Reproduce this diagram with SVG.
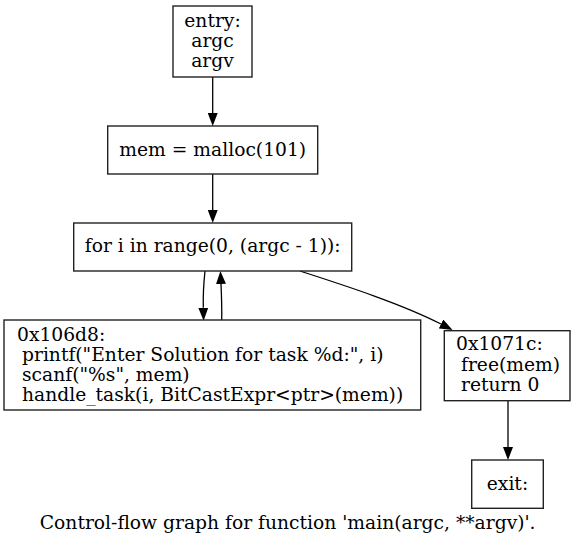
<svg xmlns="http://www.w3.org/2000/svg" width="576" height="545" viewBox="0 0 576 545">
<style>
.n rect{fill:#fff;stroke:#222;stroke-width:1.4}
text{font-family:"DejaVu Serif","Liberation Serif",serif;font-size:18.7px;fill:#000}
.e path{fill:none;stroke:#000;stroke-width:1.3}
</style>
<defs>
<marker id="a" viewBox="0 0 13 10" refX="0" refY="5" markerWidth="13" markerHeight="10" markerUnits="userSpaceOnUse" orient="auto">
<path d="M0,0 L13,5 L0,10 z" fill="#000"/>
</marker>
</defs>
<rect width="576" height="545" fill="#fff"/>
<g class="e" id="edges">
<path d="M212.7,77 L212.7,113" marker-end="url(#a)"/>
<path d="M212.7,174 L212.7,210" marker-end="url(#a)"/>
<path d="M205,271 C203.5,285 203,296 203.3,307.7" marker-end="url(#a)"/>
<path d="M221.7,320 C222,306 221.5,295 221,284" marker-end="url(#a)"/>
<path d="M300,271 C340,284 400,303 441,324" marker-end="url(#a)"/>
<path d="M508,401 L508,447" marker-end="url(#a)"/>
</g>
<g class="n" id="entry">
<rect x="173" y="6" width="79" height="71"/>
<text x="212.5" y="27" text-anchor="middle">entry:</text>
<text x="212.5" y="47" text-anchor="middle">argc</text>
<text x="212.5" y="67" text-anchor="middle">argv</text>
</g>
<g class="n" id="malloc">
<rect x="107.7" y="126" width="210" height="48"/>
<text x="212.7" y="156" text-anchor="middle">mem = malloc(101)</text>
</g>
<g class="n" id="loop">
<rect x="73.7" y="223" width="278" height="48"/>
<text x="212.7" y="252" text-anchor="middle">for i in range(0, (argc - 1)):</text>
</g>
<g class="n" id="body">
<rect x="4" y="320" width="416.7" height="90"/>
<text x="17" y="341">0x106d8:</text>
<text x="22" y="361">printf("Enter Solution for task %d:", i)</text>
<text x="22" y="381">scanf("%s", mem)</text>
<text x="22" y="401">handle_task(i, BitCastExpr&lt;ptr&gt;(mem))</text>
</g>
<g class="n" id="ret">
<rect x="444.3" y="330.7" width="125.7" height="70"/>
<text x="456" y="350">0x1071c:</text>
<text x="461" y="371">free(mem)</text>
<text x="461" y="391">return 0</text>
</g>
<g class="n" id="exit">
<rect x="471.7" y="460" width="71.6" height="48.3"/>
<text x="507.5" y="490" text-anchor="middle">exit:</text>
</g>
<text x="287.7" y="528.5" text-anchor="middle">Control-flow graph for function 'main(argc, **argv)'.</text>
</svg>
